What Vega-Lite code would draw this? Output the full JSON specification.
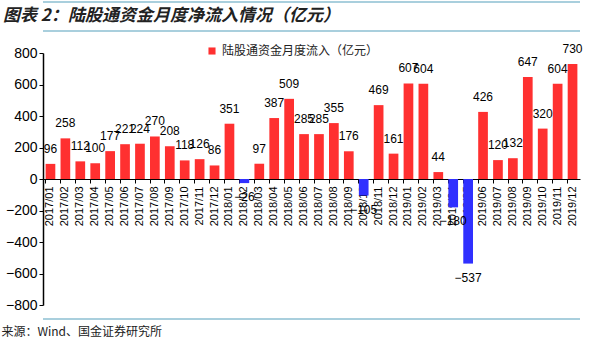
{
  "$schema": "https://vega.github.io/schema/vega-lite/v6.json",
  "width": 537,
  "height": 252,
  "autosize": {"type": "none"},
  "padding": {"left": 43, "top": 53, "right": 20, "bottom": 38},
  "background": "white",
  "title": {
    "text": "图表 2：陆股通资金月度净流入情况（亿元）",
    "anchor": "start",
    "frame": "group",
    "dx": -40,
    "offset": -24,
    "font": "Noto Sans CJK SC",
    "fontSize": 17,
    "fontWeight": "bold",
    "fontStyle": "italic",
    "color": "#222222"
  },
  "config": {
    "view": {"stroke": null},
    "axisX": {
      "title": null,
      "orient": "bottom",
      "offset": -126,
      "labelAngle": -90,
      "labelFont": "Liberation Sans",
      "labelFontSize": 11,
      "labelColor": "#000000",
      "labelPadding": 3,
      "domainColor": "#000000",
      "tickColor": "#000000",
      "tickSize": 4,
      "bandPosition": 0
    },
    "axisY": {
      "title": null,
      "grid": false,
      "labelFont": "Liberation Sans",
      "labelFontSize": 14,
      "labelColor": "#000000",
      "labelPadding": 2,
      "domainColor": "#000000",
      "domainWidth": 1.5,
      "tickColor": "#000000",
      "tickSize": 4
    }
  },
  "datasets": {
    "flows": [
      {"m": "2017/01", "v": 96}, {"m": "2017/02", "v": 258}, {"m": "2017/03", "v": 112},
      {"m": "2017/04", "v": 100}, {"m": "2017/05", "v": 177}, {"m": "2017/06", "v": 221},
      {"m": "2017/07", "v": 224}, {"m": "2017/08", "v": 270}, {"m": "2017/09", "v": 208},
      {"m": "2017/10", "v": 118}, {"m": "2017/11", "v": 126}, {"m": "2017/12", "v": 86},
      {"m": "2018/01", "v": 351}, {"m": "2018/02", "v": -26}, {"m": "2018/03", "v": 97},
      {"m": "2018/04", "v": 387}, {"m": "2018/05", "v": 509}, {"m": "2018/06", "v": 285},
      {"m": "2018/07", "v": 285}, {"m": "2018/08", "v": 355}, {"m": "2018/09", "v": 176},
      {"m": "2018/10", "v": -105}, {"m": "2018/11", "v": 469}, {"m": "2018/12", "v": 161},
      {"m": "2019/01", "v": 607}, {"m": "2019/02", "v": 604}, {"m": "2019/03", "v": 44},
      {"m": "2019/04", "v": -180}, {"m": "2019/05", "v": -537}, {"m": "2019/06", "v": 426},
      {"m": "2019/07", "v": 120}, {"m": "2019/08", "v": 132}, {"m": "2019/09", "v": 647},
      {"m": "2019/10", "v": 320}, {"m": "2019/11", "v": 604}, {"m": "2019/12", "v": 730}
    ]
  },
  "layer": [
    {
      "data": {"name": "flows"},
      "mark": {"type": "bar"},
      "encoding": {
        "x": {
          "field": "m",
          "type": "nominal",
          "sort": null,
          "title": null,
          "scale": {"paddingInner": 0.35, "paddingOuter": 0.175}
        },
        "y": {
          "field": "v",
          "type": "quantitative",
          "title": null,
          "scale": {"domain": [-800, 800], "nice": false},
          "axis": {"values": [-800, -600, -400, -200, 0, 200, 400, 600, 800]}
        },
        "color": {
          "condition": {"test": "datum.v < 0", "value": "#3030ff"},
          "datum": "陆股通资金月度流入（亿元）",
          "scale": {"range": ["#ff3030"]},
          "legend": {
            "title": null,
            "orient": "none",
            "legendX": 163,
            "legendY": -8,
            "symbolType": "square",
            "symbolSize": 50,
            "symbolStrokeWidth": 0,
            "labelFont": "Noto Sans CJK SC",
            "labelFontSize": 12,
            "labelColor": "#222222"
          }
        }
      }
    },
    {
      "data": {"name": "flows"},
      "transform": [{"filter": "datum.v >= 0"}],
      "mark": {"type": "text", "baseline": "bottom", "dy": -8, "font": "Liberation Sans", "fontSize": 12, "color": "#000000"},
      "encoding": {
        "x": {"field": "m", "type": "nominal", "sort": null, "title": null},
        "y": {"field": "v", "type": "quantitative", "title": null, "axis": {"values": [-800, -600, -400, -200, 0, 200, 400, 600, 800]}},
        "text": {"field": "v", "type": "quantitative", "format": "d"}
      }
    },
    {
      "data": {"name": "flows"},
      "transform": [{"filter": "datum.v < 0"}],
      "mark": {"type": "text", "baseline": "top", "dy": 9, "font": "Liberation Sans", "fontSize": 12, "color": "#000000"},
      "encoding": {
        "x": {"field": "m", "type": "nominal", "sort": null, "title": null},
        "y": {"field": "v", "type": "quantitative", "title": null, "axis": {"values": [-800, -600, -400, -200, 0, 200, 400, 600, 800]}},
        "text": {"field": "v", "type": "quantitative", "format": "d"}
      }
    },
    {
      "data": {"values": [{"v": 1124}, {"v": 940}, {"v": -889}]},
      "mark": {"type": "rule", "color": "#a9cfdd", "strokeWidth": 2},
      "encoding": {"y": {"field": "v", "type": "quantitative", "title": null, "axis": {"values": [-800, -600, -400, -200, 0, 200, 400, 600, 800]}}}
    },
    {
      "data": {"values": [{"t": "来源：Wind、国金证券研究所"}]},
      "mark": {"type": "text", "align": "left", "baseline": "middle", "dx": -49, "font": "Noto Sans CJK SC", "fontSize": 12, "color": "#222222"},
      "encoding": {
        "x": {"datum": "2017/01", "title": null},
        "y": {"datum": -971, "title": null, "axis": {"values": [-800, -600, -400, -200, 0, 200, 400, 600, 800]}},
        "text": {"field": "t"}
      }
    }
  ]
}
